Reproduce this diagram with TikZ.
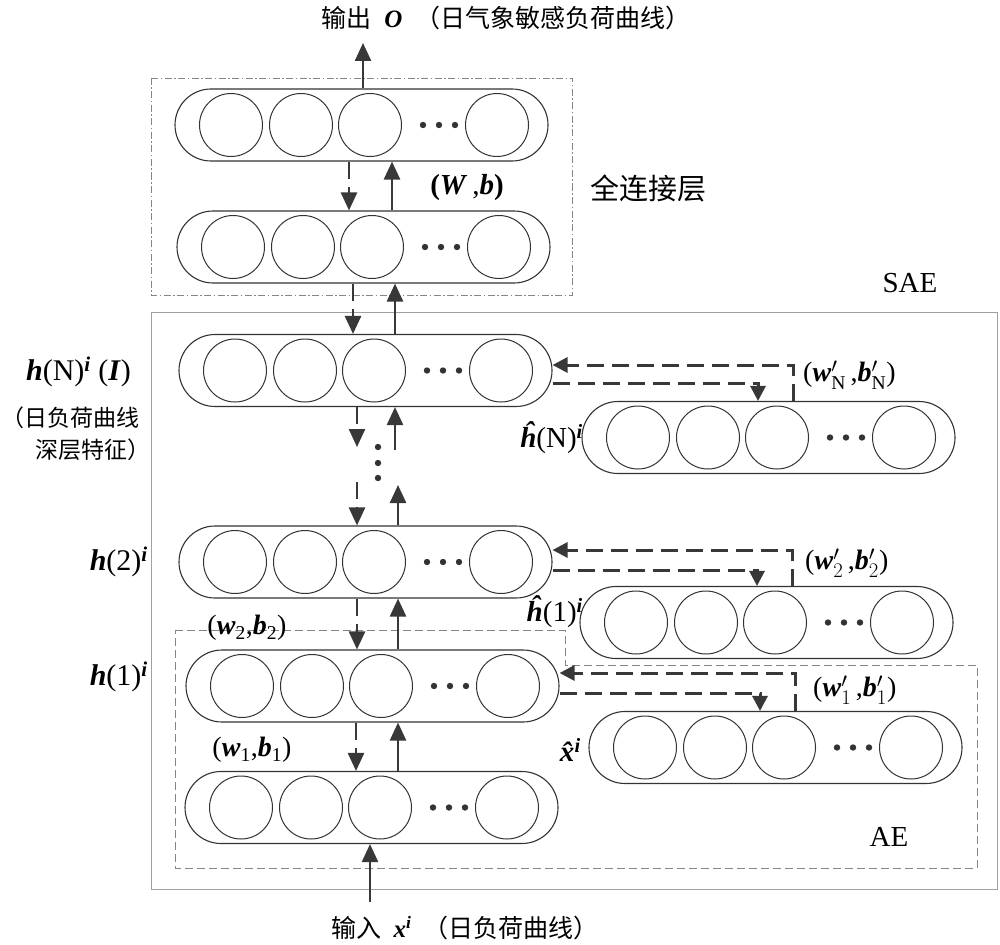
\documentclass[tikz,border=0pt]{standalone}
\usepackage{amsmath}
\usepackage{fontspec}
\setmainfont{Liberation Serif}
\newfontfamily\cjk{Noto Sans CJK SC}
\usetikzlibrary{arrows.meta}
\definecolor{ln}{HTML}{333333}
\definecolor{ar}{HTML}{383838}
\definecolor{fr}{HTML}{858585}
\definecolor{sae}{HTML}{A0A0A0}
\newcommand\bi[1]{\textbf{\textit{#1}}}
\newcommand\fs[1]{\fontsize{#1}{#1}\selectfont}
\newcommand\layer[3]{%
  \node[pill] (#1) at ({#2+186.5},#3) {};
  \node[neuron] (#1-1) at ({#2+56},#3) {};
  \node[neuron] (#1-2) at ({#2+126},#3) {};
  \node[neuron] (#1-3) at ({#2+195},#3) {};
  \node[neuron] (#1-4) at ({#2+322},#3) {};
  \fill[ln] ({#2+248},#3) circle (3.2pt) ({#2+264},#3) circle (3.2pt) ({#2+280},#3) circle (3.2pt);
}
\begin{document}
\begin{tikzpicture}[x=1pt,y=-1pt,
  pill/.style={draw=ln,line width=1.1pt,rounded corners=36pt,minimum width=373pt,minimum height=72pt,inner sep=0pt},
  neuron/.style={draw=ln,line width=1pt,circle,minimum size=63pt,inner sep=0pt},
  uparrow/.style={draw=ar,line width=2.5pt,-{Triangle[length=18pt,width=16pt]}},
  dnarrow/.style={draw=ar,line width=2.5pt,dash pattern=on 17pt off 8pt,-{Triangle[length=18pt,width=16pt]}},
  fbarrow/.style={draw=ar,line width=3pt,dash pattern=on 17pt off 8pt,-{Triangle[length=15pt,width=15pt]}},
  lbl/.style={inner sep=0pt,text=black},
]
\useasboundingbox[fill=white] (0,0) rectangle (1000,944);

% frames
\draw[fr,line width=0.9pt,dash pattern=on 7pt off 2.5pt on 1.5pt off 2.5pt] (151,78) rectangle (572,295);
\draw[sae,line width=1pt] (151,312) rectangle (997,889);
\draw[fr,line width=1pt,dash pattern=on 8pt off 4pt] (175,630) -- (565,630) -- (565,665) -- (977,665) -- (977,868) -- (175,868) -- cycle;

% layers
\layer{o1}{175}{125}
\layer{o2}{177}{247}
\layer{hN}{179}{370.5}
\layer{hNh}{582}{437.5}
\layer{h2}{179}{562}
\layer{h1h}{580}{622.5}
\layer{h1}{186}{686}
\layer{xh}{589}{747.5}
\layer{x}{185}{807.5}

% vertical connectors
\coordinate (outp) at (363,43);
\draw[uparrow] (o1.north -| outp) -- (outp);
\draw[dnarrow] (o1.south -| 349,0) -- (o2.north -| 349,0);
\draw[uparrow] (o2.north -| 392,0) -- (o1.south -| 392,0);
\draw[dnarrow] (o2.south -| 353,0) -- (hN.north -| 353,0);
\draw[uparrow] (hN.north -| 395,0) -- (o2.south -| 395,0);

\coordinate (d1) at (357,447);
\coordinate (u1) at (395,450);
\coordinate (d2) at (357,482);
\coordinate (u2) at (398,485);
\draw[dnarrow] (hN.south -| d1) -- (d1);
\draw[uparrow] (u1) -- (hN.south -| u1);
\draw[dnarrow] (d2) -- (h2.north -| d2);
\draw[uparrow] (h2.north -| u2) -- (u2);
\fill[ln] (378,447) circle (3.2pt) (378,463) circle (3.2pt) (378,478) circle (3.2pt);

\draw[dnarrow] (h2.south -| 357,0) -- (h1.north -| 357,0);
\draw[uparrow] (h1.north -| 398,0) -- (h2.south -| 398,0);
\draw[dnarrow] (h1.south -| 356,0) -- (x.north -| 356,0);
\draw[uparrow] (x.north -| 398,0) -- (h1.south -| 398,0);
\coordinate (inp) at (370,902);
\draw[uparrow] (inp) -- (x.south -| inp);

% feedback connectors
\draw[fbarrow] (hNh.north -| 793,0) |- (hN.east |- 0,365);
\draw[fbarrow] (hN.east |- 0,383) -| (hNh.north -| 758,0);
\draw[fbarrow] (h1h.north -| 792,0) |- (h2.east |- 0,550);
\draw[fbarrow] (h2.east |- 0,570) -| (h1h.north -| 757,0);
\draw[fbarrow] (xh.north -| 795,0) |- (h1.east |- 0,673);
\draw[fbarrow] (h1.east |- 0,693) -| (xh.north -| 760,0);

% labels
\node[lbl,font=\fs{25}] (title) at (506,18) {{\cjk 输出}\enspace\bi{O}\enspace{\cjk （日气象敏感负荷曲线）}};
\node[lbl,font=\fs{29}] (fc) at (648,188) {\cjk 全连接层};
\node[lbl,font=\fs{29}] (saelbl) at (910,283) {SAE};
\node[lbl,font=\fs{29}] (aelbl) at (889,837) {AE};
\node[lbl,font=\fs{29}] (Wb) at (467,188) {{\bfseries(}\bi{W}\,,\bi{b}{\bfseries)}};
\node[lbl,font=\fs{30},anchor=east] (lhN) at (131,372) {\bi{h}(N)\textsuperscript{\bi{i}} (\bi{I})};
\node[lbl,font=\fs{23},anchor=east] (lhN2) at (140,418) {\cjk （日负荷曲线};
\node[lbl,font=\fs{23},anchor=east] (lhN3) at (151,450) {\cjk 深层特征）};
\node[lbl,font=\fs{30},anchor=east] (lh2) at (148,562) {\bi{h}(2)\textsuperscript{\bi{i}}};
\node[lbl,font=\fs{30},anchor=east] (lh1) at (148,677) {\bi{h}(1)\textsuperscript{\bi{i}}};
\node[lbl,font=\fs{28}] (w2) at (247,628) {(\bi{w}\textsubscript{2},\bi{b}\textsubscript{2})};
\node[lbl,font=\fs{28}] (w1) at (252,750) {(\bi{w}\textsubscript{1},\bi{b}\textsubscript{1})};
\node[lbl,font=\fs{29},anchor=east] (lhNh) at (583,438) {\bi{ĥ}(N)\textsuperscript{\bi{i}}};
\node[lbl,font=\fs{29},anchor=east] (lh1h) at (583,612) {\bi{ĥ}(1)\textsuperscript{\bi{i}}};
\node[lbl,font=\fs{29},anchor=east] (lxh) at (581,750) {\bi{x̂}\kern-0.22em\textsuperscript{\bi{i}}};
\node[lbl,font=\fs{28},anchor=west] (wN) at (803,375) {(\bi{w}$'_{\text{N}}$\,,\bi{b}$'_{\text{N}}$)};
\node[lbl,font=\fs{28},anchor=west] (wp2) at (805,563) {(\bi{w}$'_{2}$\,,\bi{b}$'_{2}$)};
\node[lbl,font=\fs{28},anchor=west] (wp1) at (813,690) {(\bi{w}$'_{1}$\,,\bi{b}$'_{1}$)};
\node[lbl,font=\fs{25}] (intext) at (465,928) {{\cjk 输入}\enspace\bi{x}\textsuperscript{\bi{i}}\enspace{\cjk （日负荷曲线）}};
\end{tikzpicture}
\end{document}
